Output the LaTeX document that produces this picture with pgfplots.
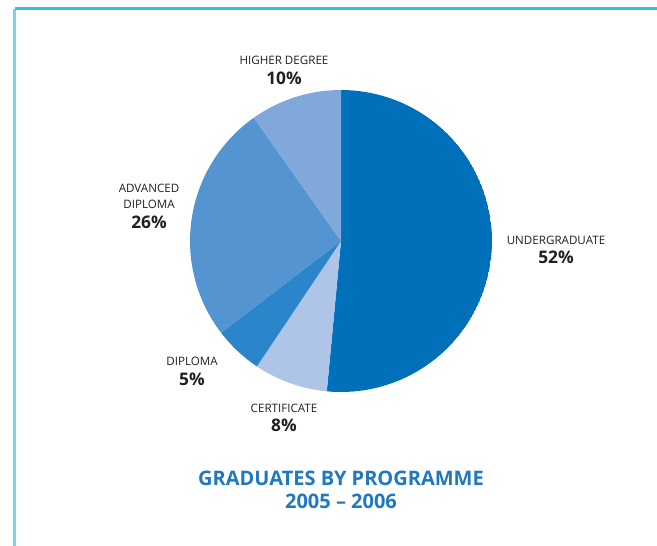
\documentclass[border=0pt]{standalone}
\usepackage{pgfplots}
\pgfplotsset{compat=1.18}
\usepgfplotslibrary{polar}
\usepackage{fontspec}
\setmainfont{Open Sans}
\definecolor{cUG}{HTML}{0070BA}
\definecolor{cCE}{HTML}{AEC5E8}
\definecolor{cDI}{HTML}{2A85CB}
\definecolor{cAD}{HTML}{5494D0}
\definecolor{cHD}{HTML}{80A8DA}
\definecolor{ctitle}{HTML}{1F78C1}
\definecolor{ctext}{HTML}{231F20}
% slice shares (percent), clockwise from 12 o'clock
\def\pUG{51.5}\def\pCE{7.9}\def\pDI{5.2}\def\pAD{25.6}\def\pHD{9.8}
\pgfmathsetmacro{\aA}{90}
\pgfmathsetmacro{\aB}{\aA-3.6*\pUG}
\pgfmathsetmacro{\aC}{\aB-3.6*\pCE}
\pgfmathsetmacro{\aD}{\aC-3.6*\pDI}
\pgfmathsetmacro{\aE}{\aD-3.6*\pAD}
\pgfmathsetmacro{\aF}{\aE-3.6*\pHD}
\begin{document}
\begin{tikzpicture}
\begin{scope}[x=0.75pt,y=-0.75pt]
\useasboundingbox (0,0) rectangle (657,546);
\draw[color={rgb,255:red,120;green,212;blue,245},line width=2.2pt] (14.5,546) -- (14.5,8.5);
\draw[color={rgb,255:red,40;green,196;blue,240},line width=2.2pt] (14.5,8.5) -- (657,8.5);
\end{scope}
\begin{polaraxis}[
  at={(341*0.75pt,-241*0.75pt)}, anchor=center,
  width=226.5pt, height=226.5pt, scale only axis,
  ymin=0, ymax=1, hide axis,
]
\addplot[fill=cUG, draw=none, domain=\aB:\aA, samples=80] {1} -- (axis cs:0,0) -- cycle;
\addplot[fill=cCE, draw=none, domain=\aC:\aB, samples=20] {1} -- (axis cs:0,0) -- cycle;
\addplot[fill=cDI, draw=none, domain=\aD:\aC, samples=20] {1} -- (axis cs:0,0) -- cycle;
\addplot[fill=cAD, draw=none, domain=\aE:\aD, samples=50] {1} -- (axis cs:0,0) -- cycle;
\addplot[fill=cHD, draw=none, domain=\aF:\aE, samples=20] {1} -- (axis cs:0,0) -- cycle;
\end{polaraxis}
\begin{scope}[x=0.75pt,y=-0.75pt, every node/.style={inner sep=0pt, text=ctext}]
\def\lab#1{\fontsize{8.7}{10}\selectfont #1}
\def\pct#1{\fontsize{13}{14}\selectfont\bfseries #1}
\node at (284,60) {\lab{HIGHER DEGREE}};
\node at (284,78) {\pct{10\%}};
\node at (149,188) {\lab{ADVANCED}};
\node at (149,204) {\lab{DIPLOMA}};
\node at (149,222) {\pct{26\%}};
\node at (556,240) {\lab{UNDERGRADUATE}};
\node at (556,257) {\pct{52\%}};
\node at (192,361) {\lab{DIPLOMA}};
\node at (192,379) {\pct{5\%}};
\node at (284,408) {\lab{CERTIFICATE}};
\node at (284,425) {\pct{8\%}};
\node[text=ctitle] at (341,478) {\fontsize{15}{16}\selectfont\bfseries GRADUATES BY PROGRAMME};
\node[text=ctitle] at (341,501) {\fontsize{15}{16}\selectfont\bfseries 2005 – 2006};
\end{scope}
\end{tikzpicture}
\end{document}
